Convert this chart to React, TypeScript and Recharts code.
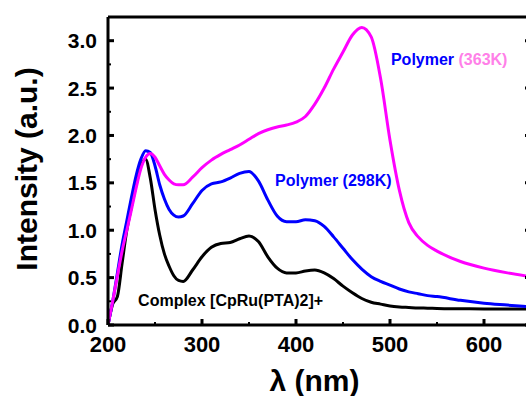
import React from 'react';
import { LineChart, Line, XAxis, YAxis, ReferenceDot, Label } from 'recharts';

// wavelength grid (nm)
const wavelengths = [
  200, 205, 210, 215, 220, 225, 230, 235, 240, 245, 250, 255, 260, 265, 270, 275, 280,
  290, 300, 310, 320, 330, 340, 350, 360, 370, 380, 390, 400, 410, 420, 430, 440, 450,
  460, 470, 480, 490, 500, 510, 520, 530, 540, 550, 575, 600, 625, 650,
];

const complexCurve = [
  0, 0.22, 0.3, 0.65, 1.0, 1.25, 1.48, 1.68, 1.75, 1.55, 1.22, 0.95, 0.75, 0.62, 0.52, 0.47, 0.46,
  0.58, 0.72, 0.82, 0.86, 0.87, 0.91, 0.94, 0.88, 0.72, 0.6, 0.55, 0.55, 0.57, 0.58, 0.55, 0.49, 0.41,
  0.34, 0.28, 0.24, 0.22, 0.2, 0.19, 0.185, 0.18, 0.178, 0.175, 0.172, 0.17, 0.17, 0.17,
];

const polymer298 = [
  0, 0.25, 0.55, 0.85, 1.1, 1.35, 1.58, 1.75, 1.84, 1.82, 1.68, 1.48, 1.33, 1.22, 1.16, 1.14, 1.15,
  1.28, 1.42, 1.49, 1.51, 1.55, 1.6, 1.62, 1.52, 1.32, 1.15, 1.09, 1.09, 1.11, 1.1, 1.04, 0.93, 0.81,
  0.69, 0.59, 0.51, 0.46, 0.42, 0.38, 0.35, 0.33, 0.31, 0.3, 0.26, 0.23, 0.21, 0.19,
];

const polymer363 = [
  0, 0.25, 0.52, 0.78, 1.0, 1.22, 1.45, 1.65, 1.77, 1.81, 1.77, 1.68, 1.59, 1.53, 1.49, 1.48, 1.48,
  1.56, 1.66, 1.74, 1.8, 1.85, 1.9, 1.96, 2.02, 2.06, 2.09, 2.11, 2.14, 2.2, 2.33, 2.5, 2.7, 2.88,
  3.06, 3.14, 3.04, 2.6, 1.95, 1.42, 1.08, 0.93, 0.84, 0.78, 0.67, 0.6, 0.55, 0.51,
];

const xTicks = [200, 250, 300, 350, 400, 450, 500, 550, 600, 650];
const yTicks = [0, 0.25, 0.5, 0.75, 1.0, 1.25, 1.5, 1.75, 2.0, 2.25, 2.5, 2.75, 3.0];

const data = wavelengths.map((w, i) => ({
  w,
  complex: complexCurve[i],
  p298: polymer298[i],
  p363: polymer363[i],
}));

const FONT = '"Liberation Sans", Arial, sans-serif';
const BLUE = '#0000ff';
const MAGENTA = '#ff00ff';

const isMajorX = (v: number) => v % 100 === 0;
const isMajorY = (v: number) => Math.abs(v * 2 - Math.round(v * 2)) < 1e-6;

const BottomTick = (props: any) => {
  const { x, y, payload } = props;
  const major = isMajorX(payload.value);
  return (
    <g>
      <line x1={x} x2={x} y1={y} y2={y - (major ? 6 : 3)} stroke="#000" strokeWidth={major ? 3 : 2} />
      {major && (
        <text x={x} y={y + 27} textAnchor="middle" fontFamily={FONT} fontWeight="bold" fontSize={22} fill="#000">
          {payload.value}
        </text>
      )}
    </g>
  );
};

const TopTick = (props: any) => {
  const { x, y, payload } = props;
  const major = isMajorX(payload.value);
  return <line x1={x} x2={x} y1={y} y2={y + (major ? 6 : 3)} stroke="#000" strokeWidth={major ? 3 : 2} />;
};

const LeftTick = (props: any) => {
  const { x, y, payload } = props;
  const major = isMajorY(payload.value);
  return (
    <g>
      <line x1={x} x2={x + (major ? 6 : 3)} y1={y} y2={y} stroke="#000" strokeWidth={major ? 3 : 2} />
      {major && (
        <text x={x - 11} y={y} dy="0.36em" textAnchor="end" fontFamily={FONT} fontWeight="bold" fontSize={21} fill="#000">
          {payload.value.toFixed(1)}
        </text>
      )}
    </g>
  );
};

const RightTick = (props: any) => {
  const { x, y, payload } = props;
  const major = isMajorY(payload.value);
  return <line x1={x} x2={x - (major ? 6 : 3)} y1={y} y2={y} stroke="#000" strokeWidth={major ? 3 : 2} />;
};

const annotation = (parts: { text: string; color: string }[]) => (props: any) => {
  const vb = props.viewBox || {};
  return (
    <text x={vb.x} y={vb.y} fontFamily={FONT} fontWeight="bold" fontSize={16}>
      {parts.map((p, i) => (
        <tspan key={i} fill={p.color}>{p.text}</tspan>
      ))}
    </text>
  );
};

const axisLine = { stroke: '#000', strokeWidth: 3 };

export default function App() {
  return (
    <div style={{ position: 'absolute', left: 0, top: 0, width: 526, height: 396, overflow: 'hidden', background: '#fff' }}>
      <LineChart width={540} height={396} data={data} margin={{ top: 0, right: 0, bottom: 0, left: 0 }}>
        <XAxis
          dataKey="w"
          type="number"
          domain={[200, 650]}
          ticks={xTicks}
          interval={0}
          allowDataOverflow
          height={71}
          tickSize={0}
          tickMargin={0}
          tickLine={false}
          axisLine={axisLine}
          tick={<BottomTick />}
        >
          <Label
            content={(p: any) => (
              <text
                x={p.viewBox.x + p.viewBox.width / 2 - 5}
                y={p.viewBox.y + 66}
                textAnchor="middle"
                fontFamily={FONT}
                fontWeight="bold"
                fontSize={30}
                fill="#000"
              >
                λ (nm)
              </text>
            )}
          />
        </XAxis>
        <XAxis
          xAxisId="top"
          orientation="top"
          type="number"
          domain={[200, 650]}
          ticks={xTicks}
          interval={0}
          allowDataOverflow
          height={17}
          tickSize={0}
          tickMargin={0}
          tickLine={false}
          axisLine={axisLine}
          tick={<TopTick />}
        />
        <YAxis
          type="number"
          domain={[0, 3.25]}
          ticks={yTicks}
          interval={0}
          allowDataOverflow
          width={108}
          tickSize={0}
          tickMargin={0}
          tickLine={false}
          axisLine={axisLine}
          tick={<LeftTick />}
        >
          <Label
            content={(p: any) => (
              <text
                x={37}
                y={p.viewBox.y + p.viewBox.height / 2 - 2}
                transform={`rotate(-90, 37, ${p.viewBox.y + p.viewBox.height / 2 - 2})`}
                textAnchor="middle"
                fontFamily={FONT}
                fontWeight="bold"
                fontSize={30}
                fill="#000"
              >
                Intensity (a.u.)
              </text>
            )}
          />
        </YAxis>
        <YAxis
          yAxisId="right"
          orientation="right"
          type="number"
          domain={[0, 3.25]}
          ticks={yTicks}
          interval={0}
          allowDataOverflow
          width={9}
          tickSize={0}
          tickMargin={0}
          tickLine={false}
          axisLine={axisLine}
          tick={<RightTick />}
        />
        <Line type="monotone" dataKey="complex" stroke="#000" strokeWidth={3} dot={false} isAnimationActive={false} />
        <Line type="monotone" dataKey="p298" stroke={BLUE} strokeWidth={3} dot={false} isAnimationActive={false} />
        <Line type="monotone" dataKey="p363" stroke={MAGENTA} strokeWidth={3} dot={false} isAnimationActive={false} />
        <ReferenceDot
          x={501}
          y={2.745}
          r={0}
          fill="none"
          stroke="none"
          label={annotation([
            { text: 'Polymer ', color: BLUE },
            { text: '(363K)', color: '#ff80e8' },
          ])}
        />
        <ReferenceDot
          x={377.7}
          y={1.47}
          r={0}
          fill="none"
          stroke="none"
          label={annotation([{ text: 'Polymer (298K)', color: BLUE }])}
        />
        <ReferenceDot
          x={232}
          y={0.2}
          r={0}
          fill="none"
          stroke="none"
          label={annotation([{ text: 'Complex [CpRu(PTA)2]+', color: '#000' }])}
        />
      </LineChart>
    </div>
  );
}
